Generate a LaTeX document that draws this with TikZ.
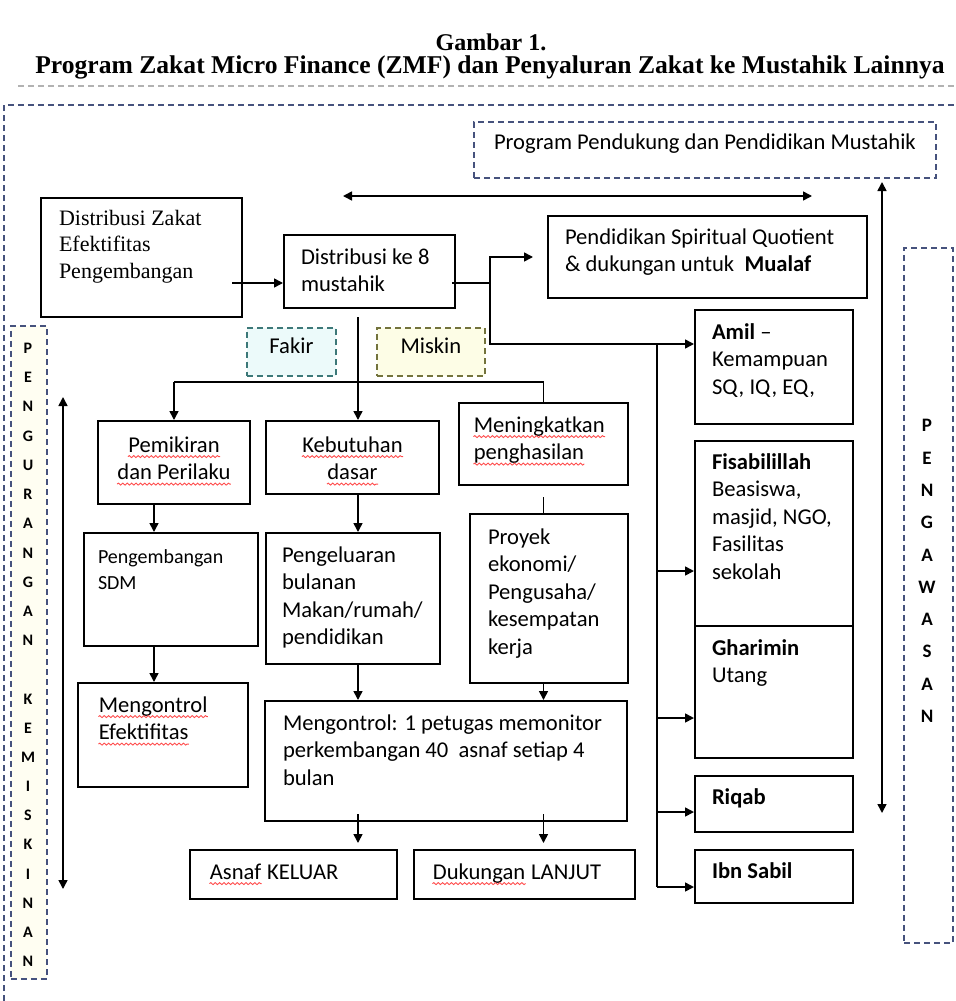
\documentclass[tikz,border=0pt]{standalone}
\usepackage{fontspec}
\setmainfont{Carlito}
\newfontfamily\serifbuku{Liberation Serif}
\usetikzlibrary{arrows.meta,decorations.pathmorphing}
\newcommand\salah[1]{\tikz[baseline=(kata.base)]{\node[inner sep=0pt] (kata) {#1};%
  \draw[red!70, line width=0.45pt, decorate, decoration={snake, amplitude=0.5pt, segment length=2.2pt}]%
  ([yshift=-2.3pt]kata.base west) -- ([yshift=-2.3pt]kata.base east);}}
\definecolor{garisbiru}{RGB}{70,82,125}
\definecolor{tosca}{RGB}{60,120,120}
\definecolor{zaitun}{RGB}{115,115,60}
\definecolor{biruumuda}{RGB}{236,250,250}
\definecolor{kuningmuda}{RGB}{253,253,230}
\tikzstyle{line} = [draw, -{Triangle[length=4.5pt,width=4.5pt]}, line width=0.8pt]
\tikzstyle{garis} = [draw, line width=0.8pt]
\tikzstyle{dua} = [draw, {Triangle[length=4.5pt,width=4.5pt]}-{Triangle[length=4.5pt,width=4.5pt]}, line width=0.8pt]
\tikzstyle{kotak} = [draw, line width=1pt, anchor=north west, align=flush left, inner xsep=8.5pt, inner ysep=0pt, font=\fontsize{11.3}{13.75}\selectfont]

\begin{document}
\begin{tikzpicture}[x=0.5pt,y=-0.5pt]
\tikzstyle{putus} = [draw=garisbiru, dash pattern=on 3pt off 2pt, line width=0.9pt, anchor=north west, inner sep=0pt]
\tikzstyle{huruf} = [align=center, inner sep=0pt]
\useasboundingbox (0,0) rectangle (955,1001);

% judul
\node[font=\serifbuku\bfseries\fontsize{12}{14}\selectfont] (judul) at (491,42) {Gambar 1.};
\node[font=\serifbuku\bfseries\fontsize{12.8}{14}\selectfont] (subjudul) at (490,67)
  {Program Zakat Micro Finance (ZMF) dan Penyaluran Zakat ke Mustahik Lainnya};
\draw[gray!60, dash pattern=on 3pt off 2pt, line width=0.6pt] (18,86) -- (955,86);
\draw[garisbiru, dash pattern=on 3pt off 2pt, line width=0.9pt] (4,1001) -- (4,105) -- (955,105);

% kotak putus-putus
\node[putus, minimum width=231pt, text height=14pt, text depth=14pt,
  font=\fontsize{11.3}{13.75}\selectfont] (pp) at (473,121) {Program Pendukung dan Pendidikan Mustahik};
\node[putus, draw=tosca, fill=biruumuda, minimum width=44.5pt, text height=13pt, text depth=11pt,
  font=\fontsize{11.3}{13.75}\selectfont] (fakir) at (246,327) {Fakir};
\node[putus, draw=zaitun, fill=kuningmuda, minimum width=54pt, text height=13pt, text depth=11pt,
  font=\fontsize{11.3}{13.75}\selectfont] (miskin) at (376,327) {Miskin};
\node[putus, fill=yellow!5, minimum width=18pt, minimum height=326.5pt] (kurang) at (10,325) {};
\node[putus, minimum width=24.5pt, minimum height=347.5pt] (awas) at (903,247) {};
\node[huruf, font=\bfseries\fontsize{8}{14.6}\selectfont] (hurufkiri) at (28,655)
  {P\\E\\N\\G\\U\\R\\A\\N\\G\\A\\N\\[14.6pt]K\\E\\M\\I\\S\\K\\I\\N\\A\\N};
\node[huruf, font=\bfseries\fontsize{9.5}{16.15}\selectfont] (hurufkanan) at (927,571)
  {P\\E\\N\\G\\A\\W\\A\\S\\A\\N};

% kotak utama
\node[kotak, text width=82.5pt, inner xsep=9pt, text height=13.5pt, text depth=46pt,
  font=\serifbuku\fontsize{11}{13.3}\selectfont] (dz) at (40,197) {Distribusi Zakat\\Efektifitas\\Pengembangan};
\node[kotak, text width=68.5pt, text height=14.5pt, text depth=22pt] (d8) at (283,234) {Distribusi ke 8\\mustahik};
\node[kotak, text width=142.5pt, text height=14pt, text depth=27pt] (sq) at (547,215)
  {Pendidikan Spiritual Quotient\\\& dukungan untuk\ \ \textbf{Mualaf}};

\node[kotak, align=flush center, text width=64pt, inner xsep=6pt, text height=15.5pt, text depth=26pt] (pk) at (97,420)
  {\salah{Pemikiran}\\\salah{dan Perilaku}};
\node[kotak, align=flush center, text width=74.5pt, inner xsep=6pt, text height=15.5pt, text depth=21pt] (kd) at (265,420)
  {\salah{Kebutuhan}\\\salah{dasar}};
\node[kotak, text width=70.5pt, inner xsep=7pt, text height=14.5pt, text depth=26.5pt] (mp) at (458,402)
  {\salah{Meningkatkan}\\\salah{penghasilan}};

\node[kotak, text width=73pt, inner xsep=7pt, text height=15pt, text depth=41.5pt,
  font=\fontsize{10}{13.25}\selectfont] (sdm) at (83,532) {Pengembangan\\SDM};
\node[kotak, text width=71pt, inner xsep=8pt, text height=14.5pt, text depth=51pt] (pb) at (265,532)
  {Pengeluaran\\bulanan\\Makan/rumah/\\pendidikan};
\node[kotak, text width=61pt, inner xsep=9pt, text height=15pt, text depth=69.5pt] (pe) at (469,513)
  {Proyek\\ekonomi/\\Pengusaha/\\kesempatan\\kerja};

\node[kotak, text width=65pt, inner xsep=10pt, text height=14.5pt, text depth=37.5pt] (me) at (77,682)
  {\salah{Mengontrol}\\\salah{Efektifitas}};
\node[kotak, text width=163pt, inner xsep=9pt, text height=14.5pt, text depth=45.5pt] (mc) at (264,700)
  {\mbox{Mengontrol: 1 petugas memonitor}\\\mbox{perkembangan 40\ \ asnaf setiap 4}\\bulan};
\node[kotak, text width=84.5pt, inner xsep=9.5pt, text height=14.5pt, text depth=10pt] (ak) at (189,849)
  {\salah{Asnaf} KELUAR};
\node[kotak, text width=92.5pt, inner xsep=9pt, text height=14.5pt, text depth=10pt] (dl) at (413,849)
  {\salah{Dukungan} LANJUT};

% kolom kanan
\node[kotak, text width=62pt, text height=14.5pt, text depth=42.5pt] (amil) at (694,309)
  {\textbf{Amil} --\\Kemampuan\\SQ, IQ, EQ,};
\node[kotak, text width=62pt, text height=14pt, text depth=78.5pt] (fis) at (694,440)
  {\textbf{Fisabilillah}\\Beasiswa,\\masjid, NGO,\\Fasilitas\\sekolah};
\node[kotak, text width=62pt, text height=14.5pt, text depth=51.5pt] (gh) at (694,625)
  {\textbf{Gharimin}\\Utang};
\node[kotak, text width=62pt, text height=14pt, text depth=14pt] (rq) at (694,775) {\textbf{Riqab}};
\node[kotak, text width=62pt, text height=14pt, text depth=12.5pt] (ibn) at (694,849) {\textbf{Ibn Sabil}};

% titik bantu
\coordinate (jr) at (490,283);
\coordinate (ja) at (657,344);
\coordinate (jb) at (358,382);
\coordinate (xs) at ([xshift=-10pt]pk.south);
\coordinate (afis) at ([yshift=-18.75pt]fis.west);
\coordinate (agh) at ([yshift=-13pt]gh.west);
\coordinate (arq) at ([yshift=-4pt]rq.west);
\coordinate (aibn) at ([yshift=-5.25pt]ibn.west);
\coordinate (hl) at (343,196);
\coordinate (hr) at (812,196);
\coordinate (ka) at (882,182);
\coordinate (kb) at (882,813);
\coordinate (la) at (63,397);
\coordinate (lb) at (63,889);

% panah
\path [line] ([xshift=-5.5pt]dz.east |- jr) -- (d8.west |- jr);
\path [garis] ([xshift=-2pt]d8.east |- jr) -- (jr);
\path [line] (jr) |- ([xshift=-7pt]sq.west);
\path [line] (jr) |- (amil.west |- ja);
\path [garis] (ja) -- (ja |- aibn);
\path [line] (ja |- afis) -- (afis);
\path [line] (ja |- agh) -- (agh);
\path [line] (ja |- arq) -- (arq);
\path [line] (ja |- aibn) -- (aibn);

\path [line] ([yshift=-4pt]jb |- d8.south) -- (jb |- kd.north);
\path [garis] (pk.north |- jb) -- (mp.north |- jb) -- (mp.north);
\path [line] (pk.north |- jb) -- (pk.north);
\path [line] (xs) -- (xs |- sdm.north);
\path [line] (xs |- sdm.south) -- (xs |- me.north);
\path [line] (jb |- kd.south) -- (jb |- pb.north);
\path [line] (jb |- pb.south) -- (jb |- mc.north);
\path [garis] ([yshift=-5.5pt]mp.south) -- (mp.south |- pe.north);
\path [line] (mp.south |- pe.south) -- (mp.south |- mc.north);
\path [line] ([yshift=4pt]jb |- mc.south) -- ([yshift=3pt]jb |- ak.north);
\path [line] ([yshift=4pt]mp.south |- mc.south) -- ([yshift=3pt]mp.south |- dl.north);

\path [dua] (hl) -- (hr);
\path [dua] (ka) -- (kb);
\path [dua] (la) -- (lb);
\end{tikzpicture}
\end{document}
